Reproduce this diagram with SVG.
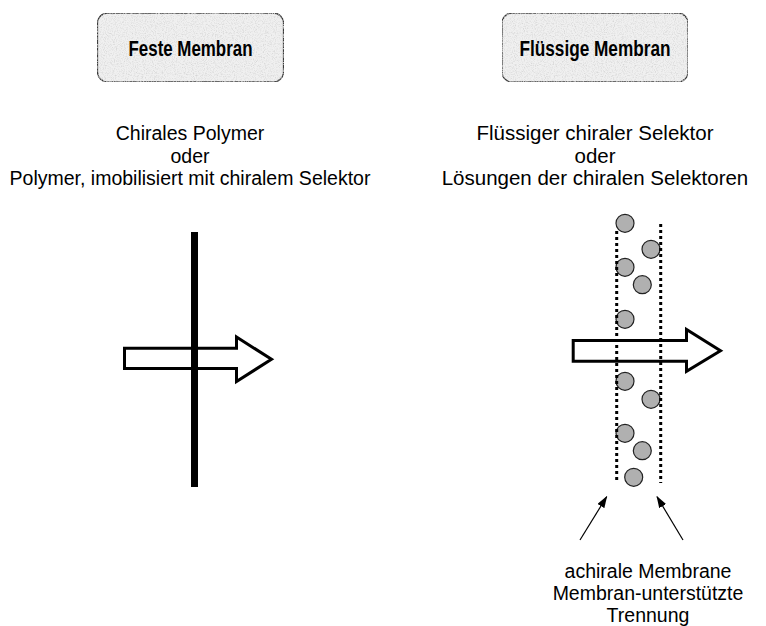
<svg xmlns="http://www.w3.org/2000/svg" width="766" height="626" viewBox="0 0 766 626">
<style>
.box{fill:#f0f0f0;stroke:#3a3a3a;stroke-width:1.3}
.title{font-family:"Liberation Sans",Arial,sans-serif;font-weight:bold;font-size:22px;fill:#000}
.txt{font-family:"Liberation Sans",Arial,sans-serif;font-size:19.5px;fill:#000}
.txtr{font-family:"Liberation Sans",Arial,sans-serif;font-size:20.5px;fill:#000}
.blk{fill:#fff;stroke:#000;stroke-width:3;stroke-linejoin:miter}
.dot{stroke:#000;stroke-width:3;stroke-dasharray:3 3;fill:none}
.mol{fill:#b0b0b0;stroke:#222;stroke-width:1.2}
.ptr{stroke:#000;stroke-width:1.2;fill:none;marker-end:url(#ah)}
</style>
<defs>
<filter id="grain" x="0" y="0" width="100%" height="100%">
<feTurbulence type="fractalNoise" baseFrequency="0.9" numOctaves="2" seed="4" result="n"/>
<feColorMatrix in="n" type="matrix" values="0 0 0 0 0.68  0 0 0 0 0.68  0 0 0 0 0.68  0 0 0 -2.5 1.4" result="sp"/>
<feComposite in="sp" in2="SourceGraphic" operator="in" result="sp2"/>
<feMerge><feMergeNode in="SourceGraphic"/><feMergeNode in="sp2"/></feMerge>
</filter>
<marker id="ah" viewBox="0 0 12 8" refX="11" refY="4" markerWidth="12" markerHeight="8" markerUnits="userSpaceOnUse" orient="auto">
<path d="M0,0 L12,4 L0,8 Z" fill="#000"/>
</marker>
</defs>

<g id="node-feste">
<rect class="box" x="97.5" y="13" width="186" height="69" rx="10" filter="url(#grain)"/>
<text class="title" x="190.5" y="56" text-anchor="middle" textLength="124" lengthAdjust="spacingAndGlyphs">Feste Membran</text>
</g>

<g id="node-fluessig">
<rect class="box" x="502" y="13" width="186" height="69" rx="10" filter="url(#grain)"/>
<text class="title" x="595" y="56" text-anchor="middle" textLength="151" lengthAdjust="spacingAndGlyphs">Flüssige Membran</text>
</g>

<g id="node-feste-desc">
<text class="txt" x="190" y="140" text-anchor="middle">Chirales Polymer</text>
<text class="txt" x="190" y="162.5" text-anchor="middle">oder</text>
<text class="txt" x="190" y="185" text-anchor="middle">Polymer, imobilisiert mit chiralem Selektor</text>
</g>

<g id="node-fluessig-desc">
<text class="txtr" x="595" y="140" text-anchor="middle">Flüssiger chiraler Selektor</text>
<text class="txtr" x="595" y="162.5" text-anchor="middle">oder</text>
<text class="txtr" x="595" y="185" text-anchor="middle">Lösungen der chiralen Selektoren</text>
</g>

<g id="node-feste-diagram">
<path class="blk" d="M124.5,348.2 L236.5,348.2 L236.5,337 L271.5,359.3 L236.5,381.5 L236.5,368.5 L124.5,368.5 Z"/>
<rect x="191" y="232" width="7" height="255" fill="#000"/>
</g>

<g id="node-fluessig-diagram">
<path class="blk" d="M573.2,340.5 L686.5,340.5 L686.5,329.5 L720.5,350.7 L686.5,371.3 L686.5,361.2 L573.2,361.2 Z"/>
<circle class="mol" cx="625" cy="223.3" r="9"/>
<circle class="mol" cx="651" cy="249.3" r="9"/>
<circle class="mol" cx="625" cy="267.3" r="9"/>
<circle class="mol" cx="642.3" cy="284.7" r="9"/>
<circle class="mol" cx="625" cy="319.3" r="9"/>
<circle class="mol" cx="625" cy="381.3" r="9"/>
<circle class="mol" cx="651" cy="399.3" r="9"/>
<circle class="mol" cx="625" cy="433.3" r="9"/>
<circle class="mol" cx="642.3" cy="450.7" r="9"/>
<circle class="mol" cx="633.7" cy="477.3" r="9"/>
<line class="dot" x1="616.7" y1="231" x2="616.7" y2="483"/>
<line class="dot" x1="660.7" y1="224" x2="660.7" y2="483"/>
</g>

<g id="connectors">
<line class="ptr" x1="580" y1="540" x2="606.7" y2="496.7"/>
<line class="ptr" x1="683" y1="540" x2="657" y2="496.7"/>
</g>

<g id="node-achiral">
<text class="txt" x="648" y="578" text-anchor="middle">achirale Membrane</text>
<text class="txt" x="648" y="600" text-anchor="middle">Membran-unterstützte</text>
<text class="txt" x="648" y="622" text-anchor="middle">Trennung</text>
</g>
</svg>
